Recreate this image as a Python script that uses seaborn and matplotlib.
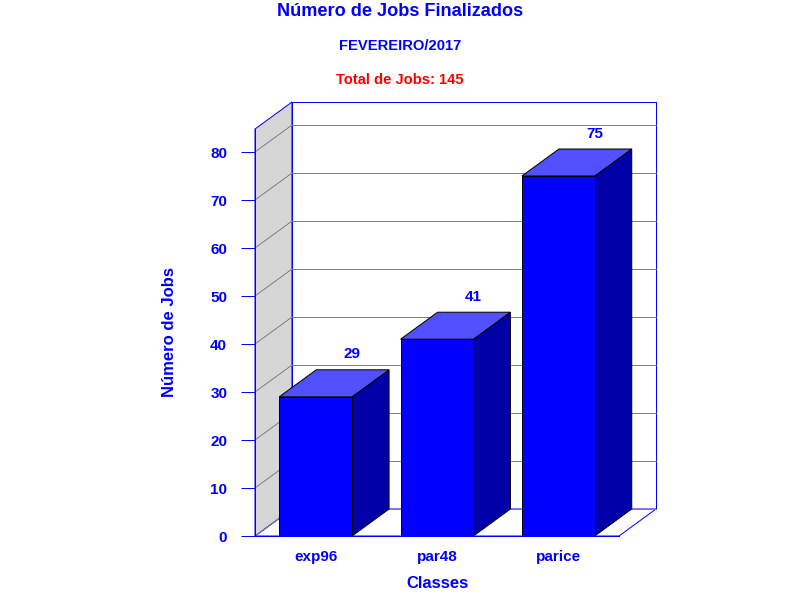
import matplotlib
matplotlib.use('Agg')
import matplotlib.pyplot as plt
from matplotlib.patches import Polygon
import pandas as pd
import seaborn as sns

classes = ['exp96', 'par48', 'parice']
jobs = [29, 41, 75]
y_ticks = [0, 10, 20, 30, 40, 50, 60, 70, 80]

BLUE = '#0000ff'
TOP = '#5050ff'
SIDE = '#0000a8'
WALL = '#d6d6d6'
GRID = '#808080'
LW = 0.72  # one pixel at dpi 100

sns.set_style('white')
plt.rcParams['font.family'] = ['Liberation Sans', 'DejaVu Sans']
plt.rcParams['font.weight'] = 'bold'

fig = plt.figure(figsize=(8, 6), dpi=100, facecolor='white')
ax = fig.add_axes([255 / 800, 1 - 536 / 600, 364 / 800, 407 / 600])

df = pd.DataFrame({'classe': classes, 'jobs': jobs})
sns.barplot(data=df, x='classe', y='jobs', color=BLUE, saturation=1, width=0.6,
            edgecolor='black', linewidth=LW, ax=ax, zorder=5)

ymax = 407 / 4.8
ax.set_xlim(-0.5, 2.5)
ax.set_ylim(0, ymax)

# depth of the fake 3d box, in data units
dx = 37 / (364 / 3)
dy = 27 / 4.8
x0, x1 = -0.5, 2.5

# left wall, floor and back wall
ax.add_patch(Polygon([(x0 + dx, dy), (x1 + dx, dy), (x1 + dx, ymax + dy), (x0 + dx, ymax + dy)],
                     closed=True, fc='white', ec=BLUE, lw=LW, clip_on=False, zorder=1))
ax.add_patch(Polygon([(x0, 0), (x1, 0), (x1 + dx, dy), (x0 + dx, dy)],
                     closed=True, fc='white', ec=BLUE, lw=LW, clip_on=False, zorder=1))
ax.add_patch(Polygon([(x0, 0), (x0 + dx, dy), (x0 + dx, ymax + dy), (x0, ymax)],
                     closed=True, fc=WALL, ec=BLUE, lw=LW, clip_on=False, zorder=1))

# gridlines run along the side wall and the back wall
for t in y_ticks:
    ax.plot([x0, x0 + dx], [t, t + dy], color=GRID, lw=LW, clip_on=False, zorder=2)
    ax.plot([x0 + dx, x1 + dx], [t + dy, t + dy], color=GRID, lw=LW, clip_on=False,
            zorder=2, snap=True)

# side and top faces of each bar, plus the value above it
for i, v in enumerate(jobs):
    l, r = i - 0.3, i + 0.3
    ax.add_patch(Polygon([(r, 0), (r + dx, dy), (r + dx, v + dy), (r, v)], closed=True,
                         fc=SIDE, ec='black', lw=LW, clip_on=False, zorder=4))
    ax.add_patch(Polygon([(l, v), (r, v), (r + dx, v + dy), (l + dx, v + dy)], closed=True,
                         fc=TOP, ec='black', lw=LW, clip_on=False, zorder=4))
    ax.text(i + dx - 0.008, v + dy + 3.2, str(v), color=BLUE, fontsize=11, fontweight='bold',
            ha='center', va='center', clip_on=False)

for s in ['top', 'right']:
    ax.spines[s].set_visible(False)
for s in ['left', 'bottom']:
    ax.spines[s].set_color(BLUE)
    ax.spines[s].set_linewidth(LW)
    ax.spines[s].set_zorder(3)

ax.set_yticks(y_ticks)
ax.set_yticklabels([str(t) for t in y_ticks])
ax.tick_params(axis='y', left=True, length=10, width=LW, color=BLUE, labelcolor=BLUE,
               labelsize=11, pad=10)
ax.tick_params(axis='x', bottom=False, labelcolor=BLUE, labelsize=11, pad=6.3)
for lab in ax.get_xticklabels() + ax.get_yticklabels():
    lab.set_fontweight('bold')

ax.set_xlabel('')
ax.set_ylabel('')
fig.text(437.5 / 800, 1 - 583 / 600, 'Classes', color=BLUE, fontsize=12, fontweight='bold',
         ha='center', va='center')
fig.text(170 / 800, 1 - 332 / 600, 'Número de Jobs', color=BLUE, fontsize=12, fontweight='bold',
         ha='center', va='center', rotation=90)

fig.text(400 / 800, 1 - 11 / 600, 'Número de Jobs Finalizados', color=BLUE, fontsize=13.1,
         fontweight='bold', ha='center', va='center')
fig.text(400 / 800, 1 - 46 / 600, 'FEVEREIRO/2017', color=BLUE, fontsize=10.65,
         fontweight='bold', ha='center', va='center')
fig.text(400 / 800, 1 - 79.5 / 600, 'Total de Jobs: 145', color='#ff0000', fontsize=10.6,
         fontweight='bold', ha='center', va='center')

fig.savefig('out.png', dpi=100, facecolor='white')
